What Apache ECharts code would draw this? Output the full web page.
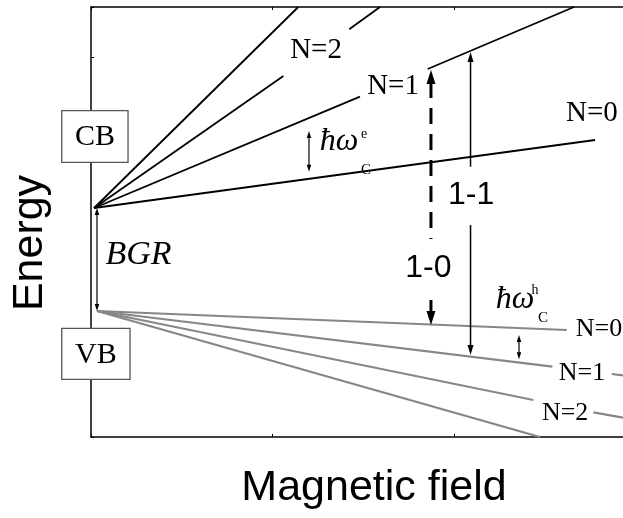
<!DOCTYPE html>
<html><head><meta charset="utf-8">
<script src="https://cdn.jsdelivr.net/npm/echarts@6/dist/echarts.min.js"></script>
<style>html,body{margin:0;padding:0;background:#fff}#c{width:623px;height:518px}</style>
</head><body><div id="c"></div>
<script>
// ---- axes (arbitrary units) ----
const fieldRange = [0, 2.931];
const energyRange = [0, 430];
const fieldTickStep = 1;
const energyTickStep = 380;

// ---- conduction-band Landau levels, split where labels sit ----
const cbN0 = [[[0.017, 229], [2.777, 297]]];
const cbN1 = [[[0.017, 229], [1.482, 340.3]], [[1.855, 368], [2.661, 430]]];
const cbN2 = [[[0.017, 229], [1.06, 361]], [[1.423, 407.7], [1.592, 430]]];
const cbN3 = [[[0.017, 229], [1.142, 430]]];
// ---- valence-band Landau levels ----
const vbN0 = [[[0.033, 126], [2.621, 107]]];
const vbN1 = [[[0.033, 126], [2.542, 70.3]], [[2.869, 63], [2.931, 61.7]]];
const vbN2 = [[[0.033, 126], [2.437, 37]], [[2.768, 24.7], [2.931, 19.3]]];
const vbN3 = [[[0.033, 126], [2.474, 0]]];

// ---- level labels [x, y, text] ----
const cbLabels = [[1.24, 387, 'N=2'], [1.664, 351, 'N=1'], [2.76, 323.5, 'N=0']];
const vbLabels = [[2.799, 108.3, 'N=0'], [2.705, 64, 'N=1'], [2.612, 24, 'N=2']];

// ---- band boxes [x0, x1, y0, y1, text] ----
const bandBoxes = [[-0.161, 0.204, 274.7, 326.3, 'CB'], [-0.161, 0.215, 57.7, 108.7, 'VB']];

// ---- small double arrows [x, yTop, yBottom] ----
const bgrArrow = [0.033, 229, 126];
const cycloE = [1.201, 306, 265.3];
const cycloH = [2.358, 102, 77.7];

// ---- transitions: x, top tip, bottom tip, label gap [upper, lower] ----
const trans11 = [2.091, 385, 82, 270.3, 212];
const trans10 = [1.873, 367, 112, 198, 137];

// ---- text annotations [x, y, text] ----
const bgrLabel = [0.262, 182.3, 'BGR'];
const trans11Label = [2.094, 242, '1-1'];
const trans10Label = [1.859, 169, '1-0'];
const hwE = [[1.366, 295, 'ħω'], [1.504, 303, 'e'], [1.515, 267, 'C']];
const hwH = [[2.336, 137, 'ħω'], [2.446, 147, 'h'], [2.49, 119, 'C']];

const SERIF = '"Liberation Serif", "Times New Roman", serif';
const SANS = '"Liberation Sans", Arial, sans-serif';

function levelSeries(segs, color, width) {
  return segs.map(s => ({
    type: 'line', data: s, symbol: 'none', silent: true, z: 3,
    lineStyle: { color: color, width: width }, animation: false
  }));
}

const series = [];
[cbN0, cbN1, cbN2, cbN3].forEach(l => series.push(...levelSeries(l, '#000', 1.8)));
[vbN0, vbN1, vbN2, vbN3].forEach(l => series.push(...levelSeries(l, '#878787', 2.2)));

function head(x, y, dir, L, W) {
  return { type: 'polygon', shape: { points: [[x, y], [x - W / 2, y - dir * L], [x + W / 2, y - dir * L]] },
    style: { fill: '#000' } };
}
function seg(x1, y1, x2, y2, w, dash) {
  return { type: 'line', shape: { x1: x1, y1: y1, x2: x2, y2: y2 },
    style: { stroke: '#000', lineWidth: w, lineDash: dash || null } };
}
function txt(p, text, font, color) {
  return { type: 'text', x: p[0], y: p[1],
    style: { text: text, font: font, fill: color || '#000', align: 'center', verticalAlign: 'middle' } };
}

series.push({
  type: 'custom', clip: false, silent: true, z: 10, animation: false,
  data: [[0, 0]],
  renderItem: function (params, api) {
    const ch = [];
    bandBoxes.forEach(b => {
      const p0 = api.coord([b[0], b[3]]), p1 = api.coord([b[1], b[2]]);
      ch.push({ type: 'rect', shape: { x: p0[0], y: p0[1], width: p1[0] - p0[0], height: p1[1] - p0[1] },
        style: { fill: '#fff', stroke: '#555', lineWidth: 1.3 } });
      ch.push(txt([(p0[0] + p1[0]) / 2, (p0[1] + p1[1]) / 2 + 1], b[4], '30px ' + SERIF));
    });
    [bgrArrow, cycloE, cycloH].forEach(a => {
      const t = api.coord([a[0], a[1]]), b = api.coord([a[0], a[2]]);
      ch.push(seg(t[0], t[1] + 5, b[0], b[1] - 5, 1.2));
      ch.push(head(t[0], t[1], -1, 7, 4.5));
      ch.push(head(b[0], b[1], 1, 7, 4.5));
    });
    {
      const a = trans11;
      const t = api.coord([a[0], a[1]]), b = api.coord([a[0], a[2]]);
      const g1 = api.coord([a[0], a[3]]), g2 = api.coord([a[0], a[4]]);
      ch.push(seg(t[0], t[1] + 8, g1[0], g1[1], 1.5));
      ch.push(seg(g2[0], g2[1], b[0], b[1] - 8, 1.5));
      ch.push(head(t[0], t[1], -1, 10, 6));
      ch.push(head(b[0], b[1], 1, 10, 6));
    }
    {
      const a = trans10;
      const t = api.coord([a[0], a[1]]), b = api.coord([a[0], a[2]]);
      const g1 = api.coord([a[0], a[3]]), g2 = api.coord([a[0], a[4]]);
      ch.push(seg(t[0], t[1] + 12, g1[0], g1[1], 3, [16, 10]));
      ch.push(seg(g2[0], g2[1], b[0], b[1] - 12, 3));
      ch.push(head(t[0], t[1], -1, 14, 9));
      ch.push(head(b[0], b[1], 1, 14, 9));
    }
    cbLabels.forEach(l => ch.push(txt(api.coord([l[0], l[1]]), l[2], '29px ' + SERIF)));
    vbLabels.forEach(l => ch.push(txt(api.coord([l[0], l[1]]), l[2], '26px ' + SERIF)));
    ch.push(txt(api.coord([bgrLabel[0], bgrLabel[1]]), bgrLabel[2], 'italic 34px ' + SERIF));
    ch.push(txt(api.coord([trans11Label[0], trans11Label[1]]), trans11Label[2], '32px ' + SANS));
    ch.push(txt(api.coord([trans10Label[0], trans10Label[1]]), trans10Label[2], '32px ' + SANS));
    [hwE, hwH].forEach(h => {
      ch.push(txt(api.coord([h[0][0], h[0][1]]), h[0][2], 'italic 32px ' + SERIF));
      ch.push(txt(api.coord([h[1][0], h[1][1]]), h[1][2], '14px ' + SERIF));
      ch.push(txt(api.coord([h[2][0], h[2][1]]), h[2][2], '15px ' + SERIF));
    });
    return { type: 'group', children: ch };
  }
});

const axisCommon = {
  type: 'value', min: fieldRange[0], max: fieldRange[1], interval: fieldTickStep,
  axisLine: { show: true, onZero: false, lineStyle: { color: '#000', width: 1.5 } },
  axisTick: { show: true, inside: true, length: 3, lineStyle: { color: '#000', width: 1 } },
  axisLabel: { show: false }, splitLine: { show: false }
};

const chart = echarts.init(document.getElementById('c'), null, { renderer: 'canvas' });
chart.setOption({
  animation: false,
  backgroundColor: '#fff',
  grid: { left: 91, right: 0, top: 7, bottom: 81, containLabel: false },
  xAxis: [
    Object.assign({}, axisCommon, { position: 'bottom', name: 'Magnetic field', nameLocation: 'middle', nameGap: 30,
      nameTextStyle: { fontFamily: SANS, fontSize: 43, color: '#000', padding: [0, 0, 0, 34] } }),
    Object.assign({}, axisCommon, { position: 'top' })
  ],
  yAxis: [{
    type: 'value', min: energyRange[0], max: energyRange[1], interval: energyTickStep, position: 'left',
    axisLine: { show: true, onZero: false, lineStyle: { color: '#000', width: 1.5 } },
    axisTick: { show: true, inside: true, length: 3, lineStyle: { color: '#000', width: 1 } },
    axisLabel: { show: false }, splitLine: { show: false },
    name: 'Energy', nameLocation: 'middle', nameGap: 39,
    nameTextStyle: { fontFamily: SANS, fontSize: 43, color: '#000', padding: [0, 42, 0, 0] }
  }],
  series: series
});
</script>
</body></html>
